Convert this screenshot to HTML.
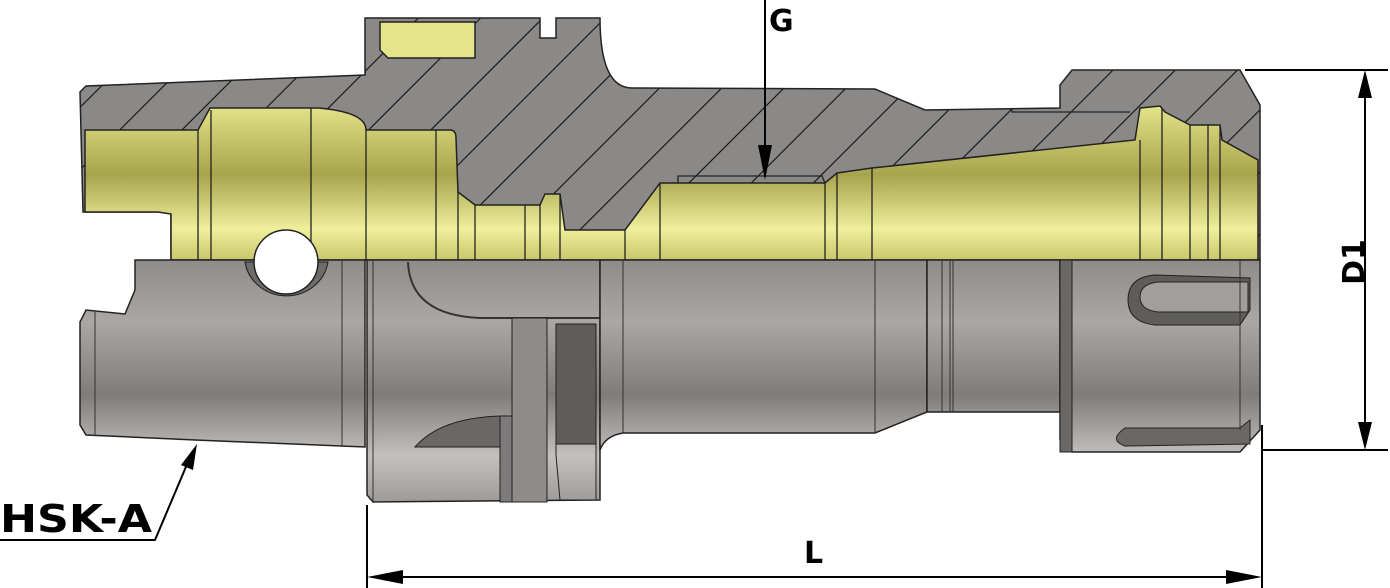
<!DOCTYPE html>
<html><head><meta charset="utf-8"><style>body{margin:0;background:#fff}svg{display:block}</style></head><body>
<svg width="1390" height="588" viewBox="0 0 1390 588" xmlns="http://www.w3.org/2000/svg">
<defs>
<pattern id="h" patternUnits="userSpaceOnUse" width="44" height="44" patternTransform="rotate(45)">
<rect width="44" height="44" fill="#8b8987"/><line x1="0" y1="0" x2="0" y2="44" stroke="#111" stroke-width="2.2"/>
</pattern>
<linearGradient id="m" x1="0" y1="260" x2="0" y2="505" gradientUnits="userSpaceOnUse">
<stop offset="0" stop-color="#8e8b89"/><stop offset="0.25" stop-color="#aaa7a4"/><stop offset="0.55" stop-color="#7f7c7a"/><stop offset="0.8" stop-color="#c3c0bd"/><stop offset="1" stop-color="#9b9895"/>
</linearGradient>
<linearGradient id="y" x1="0" y1="105" x2="0" y2="260" gradientUnits="userSpaceOnUse">
<stop offset="0" stop-color="#e4e48a"/><stop offset="0.45" stop-color="#a6a44c"/><stop offset="0.8" stop-color="#efef9c"/><stop offset="1" stop-color="#c9c76c"/>
</linearGradient>
</defs>
<path d="M80,92 L86,86 L365,75 L365,18 L540,18 L540,38 L556,38 L556,18 L600,18 Q600,88 632,88 L875,89 L925,110 L1060,108 L1060,85 L1072,70 L1240,70 L1260,105 L1260,260 L171,260 L171,212 L83,212 Z" fill="url(#h)" stroke="#222" stroke-width="1.5"/>
<path d="M380,22 L475,22 L475,58 L388,58 L380,50 Z" fill="url(#y)" stroke="#222" stroke-width="1.5"/>
<path d="M85,130 L198,130 L210,108 L318,108 Q366,112 366,130 L450,130 Q456,130 456,138 L458,192 L475,205 L540,205 L545,194 L560,194 L565,230 L625,230 L660,183 L825,183 L837,173 L872,168 L1135,140 L1140,108 L1160,106 L1165,112 L1190,125 L1220,125 L1222,140 L1258,160 L1258,260 L171,260 L171,214 L158,212 L85,212 Z" fill="url(#y)" stroke="#222" stroke-width="1.5"/>
<g stroke="#222" stroke-width="1.3" fill="none">
<line x1="198" y1="130" x2="198" y2="260"/><line x1="211" y1="110" x2="211" y2="260"/><line x1="311" y1="108" x2="311" y2="260"/><line x1="366" y1="130" x2="366" y2="260"/><line x1="436" y1="130" x2="436" y2="260"/><line x1="458" y1="192" x2="458" y2="260"/><line x1="475" y1="205" x2="475" y2="260"/><line x1="525" y1="205" x2="525" y2="260"/><line x1="540" y1="205" x2="540" y2="260"/><line x1="560" y1="194" x2="560" y2="260"/><line x1="625" y1="230" x2="625" y2="260"/><line x1="660" y1="183" x2="660" y2="260"/><line x1="825" y1="183" x2="825" y2="260"/><line x1="837" y1="173" x2="837" y2="260"/><line x1="872" y1="168" x2="872" y2="260"/><line x1="1140" y1="140" x2="1140" y2="260"/><line x1="1162" y1="108" x2="1162" y2="260"/><line x1="1190" y1="125" x2="1190" y2="260"/><line x1="1208" y1="125" x2="1208" y2="260"/><line x1="1220" y1="125" x2="1220" y2="260"/>
<polyline points="678,183 678,176 822,176 825,183"/><polyline points="1012,108 1012,112 1130,112"/>
</g>
<path d="M135,260 L365,260 L365,447 L195,440 L86,435 L80,425 L80,322 L86,310 L125,314 L130,302 L135,290 Z" fill="url(#m)" stroke="#222" stroke-width="1.5"/>
<line x1="95" y1="312" x2="95" y2="435" stroke="#333"/><line x1="342" y1="260" x2="342" y2="447" stroke="#333"/>
<path d="M245,262 A42,40 0 0 0 328,262 Z" fill="#6e6c6a" stroke="#222"/>
<circle cx="286" cy="262" r="32" fill="#fff" stroke="#222" stroke-width="1.5"/>
<path d="M367,260 L600,260 L600,500 L373,502 L367,495 Z" fill="url(#m)" stroke="#222" stroke-width="1.5"/>
<line x1="373" y1="260" x2="373" y2="502" stroke="#333"/>
<path d="M408,262 Q410,315 480,318 L600,318" fill="none" stroke="#333" stroke-width="2"/>
<rect x="512" y="318" width="35" height="184" fill="#8e8b88" stroke="#222"/>
<rect x="556" y="324" width="40" height="120" fill="#5f5d5b" stroke="#222"/>
<path d="M556,444 L596,444 L596,500 L560,500 L556,455 Z" fill="url(#m)" stroke="#222"/>
<path d="M415,447 Q440,418 500,416 L500,447 Z" fill="#6a6866" stroke="#222"/>
<path d="M500,416 L512,416 L512,502 L500,502 Z" fill="#7d7b79" stroke="#222"/>
<path d="M600,260 L875,260 L927,260 L927,412 L875,433 L623,433 Q605,436 600,450 Z" fill="url(#m)" stroke="#222" stroke-width="1.5"/>
<line x1="623" y1="260" x2="623" y2="433" stroke="#333"/><line x1="875" y1="260" x2="875" y2="433" stroke="#333"/>
<rect x="927" y="260" width="133" height="152" fill="url(#m)" stroke="#222" stroke-width="1.5"/>
<line x1="942" y1="260" x2="942" y2="412" stroke="#333"/><line x1="950" y1="260" x2="950" y2="412" stroke="#333"/><line x1="953" y1="260" x2="953" y2="412" stroke="#333"/>
<path d="M1060,260 L1260,260 L1260,430 L1240,452 L1072,452 L1060,440 Z" fill="url(#m)" stroke="#222" stroke-width="1.5"/>
<rect x="1060" y="260" width="12" height="192" fill="#6a6866" stroke="#222"/>
<path d="M1155,275 L1250,278 L1250,310 L1240,325 L1155,325 Q1128,322 1128,300 Q1128,277 1155,275 Z" fill="#5f5d5b" stroke="#222"/>
<path d="M1158,282 L1248,282 L1248,312 L1158,312 Q1140,310 1140,297 Q1140,284 1158,282 Z" fill="#a19e9b" stroke="#222"/>
<path d="M1125,428 L1240,428 L1250,420 L1250,444 L1125,446 Q1108,440 1125,428 Z" fill="#6a6866" stroke="#222"/>
<line x1="1240" y1="260" x2="1240" y2="430" stroke="#333"/>
<g stroke="#000" stroke-width="2" fill="none">
<line x1="765" y1="0" x2="765" y2="150"/>
<line x1="1245" y1="70" x2="1388" y2="70"/><line x1="1262" y1="450" x2="1388" y2="450"/>
<line x1="1365" y1="90" x2="1365" y2="430"/>
<line x1="367" y1="505" x2="367" y2="588"/><line x1="1262" y1="425" x2="1262" y2="588"/>
<line x1="395" y1="577" x2="1235" y2="577"/>
<polyline points="0,540 155,540 188,462"/>
</g>
<g fill="#000">
<path d="M758,145 L772,145 L765,180 Z"/>
<path d="M1358,98 L1372,98 L1365,70 Z"/><path d="M1358,422 L1372,422 L1365,450 Z"/>
<path d="M403,570 L403,584 L367,577 Z"/><path d="M1226,570 L1226,584 L1262,577 Z"/>
<path d="M181,465 L193,470 L197,444 Z"/>
</g>
<g font-family="DejaVu Sans, sans-serif" font-weight="bold" fill="#000">
<text x="769" y="31" font-size="30">G</text>
<text x="804" y="563" font-size="30">L</text>
<text transform="translate(1364,262) rotate(-90)" font-size="30" text-anchor="middle">D1</text>
<text x="0" y="532" font-size="38" textLength="152" lengthAdjust="spacingAndGlyphs">HSK-A</text>
</g>
</svg>
</body></html>
